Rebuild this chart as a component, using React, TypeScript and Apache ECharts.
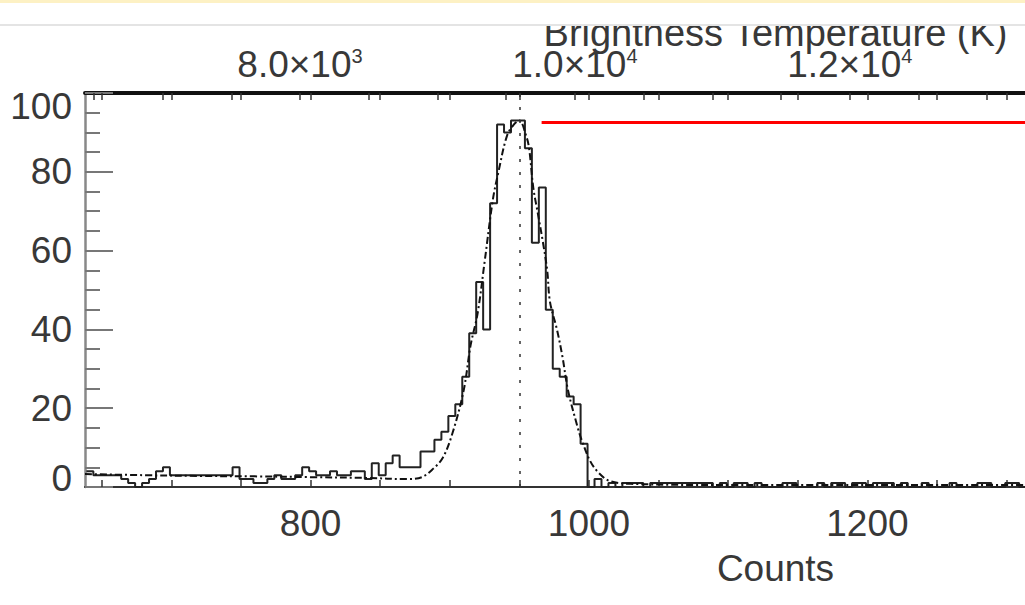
import React, { useEffect, useRef } from 'react';
import * as echarts from 'echarts';

// histogram: bins of 5 counts starting at 639
const binStart = 639;
const binWidth = 5;
const histCounts = [
  4, 3, 3, 3, 3, 2, 1, 0, 1, 2,
  4, 5, 3, 3, 3, 3, 3, 3, 3, 3,
  3, 5, 2, 2, 1, 1, 2, 3, 2, 2,
  3, 5, 4, 3, 3, 4, 3, 3, 4, 4,
  2, 6, 3, 6, 8, 5, 5, 5, 9, 9,
  12, 14, 18, 21, 28, 39, 52, 40, 72, 92,
  90, 93, 93, 86, 62, 76, 45, 30, 28, 23,
  21, 11, 0, 2, 0, 1, 0, 1, 1, 1,
  0, 1, 1, 1, 1, 1, 1, 1, 1, 1,
  0, 1, 0, 1, 1, 0, 1, 0, 0, 0,
  1, 1, 0, 0, 0, 1, 0, 1, 1, 0,
  1, 1, 0, 1, 1, 1, 0, 1, 0, 0,
  1, 0, 0, 0, 1, 0, 0, 0, 1, 1,
  0, 0, 1, 1, 0, 0, 1, 0, 0, 0, 0,
];

// fitted profile (dash-dot curve)
const fitX = [638, 680, 720, 760, 800, 840, 870, 880, 888, 895, 902, 910, 915, 920, 925, 931, 935, 941, 946, 950, 955, 957, 960, 963, 967, 970, 972, 977, 981, 985, 992, 995, 1001, 1007, 1015, 1030, 1100, 1300, 1630];
const fitY = [3.3, 3.0, 2.8, 2.7, 2.5, 2.3, 2.0, 2.5, 4.6, 7.4, 13.7, 24.5, 36, 44, 57, 73, 80, 89, 92, 93, 89, 86, 76, 70, 62, 55, 47, 40, 33, 24.5, 15, 11.7, 6.5, 3.6, 1.5, 0.8, 0.5, 0.5, 0.5];

const peakCount = 950;
const redLineX = [966, 1630];
const redLineY = 92.5;

const countRange = [638, 1630];
const tempRange = [6436, 16483];
const countTicks = [650, 700, 750, 800, 850, 900, 950, 1000, 1050, 1100, 1150, 1200, 1250, 1300, 1350, 1400, 1450, 1500, 1550, 1600];
const countLabels = [800, 1000, 1200];
const tempTicks = [6500, 7000, 7500, 8000, 8500, 9000, 9500, 10000, 10500, 11000, 11500, 12000, 12500, 13000, 13500, 14000, 14500, 15000, 15500, 16000];
const tempLabels = [8000, 10000, 12000];
const yRange = [0, 100];
const yInterval = 20;

const FONT = 'Liberation Sans';
const TXT = '#383838';
const FS = 37;

export default function App() {
  const ref = useRef<HTMLDivElement>(null);
  useEffect(() => {
    if (!ref.current) return;
    const chart = echarts.init(ref.current, undefined, { renderer: 'svg' });
    const histData: number[][] = histCounts.map((c, i) => [binStart + i * binWidth, c]);
    histData.push([binStart + histCounts.length * binWidth, histCounts[histCounts.length - 1]]);
    const fitData = fitX.map((x, i) => [x, fitY[i]]);
    const labelStyle = { fontSize: FS, fontFamily: FONT, color: TXT };
    chart.setOption({
      animation: false,
      backgroundColor: '#fff',
      grid: { left: 85, top: 93, height: 394, width: 1381, outerBoundsMode: 'none' },
      xAxis: [
        {
          type: 'value', position: 'bottom', min: countRange[0], max: countRange[1],
          axisLine: { show: true, lineStyle: { color: '#333', width: 2 } },
          axisTick: { show: true, inside: true, length: 7, customValues: countTicks, lineStyle: { color: '#333', width: 1.5 } },
          axisLabel: { ...labelStyle, margin: 18, customValues: countLabels, formatter: (v: number) => String(v) },
          splitLine: { show: false },
          name: 'Counts', nameLocation: 'middle', nameGap: 63,
          nameTextStyle: { ...labelStyle },
        },
        {
          type: 'value', position: 'top', min: countRange[0], max: countRange[1], offset: 0,
          axisLine: { show: true, lineStyle: { color: '#111', width: 4 } },
          axisTick: { show: true, inside: true, length: 7, customValues: countTicks, lineStyle: { color: '#333', width: 1.5 } },
          axisLabel: { show: false },
          splitLine: { show: false },
        },
        {
          type: 'value', position: 'top', min: tempRange[0], max: tempRange[1], offset: 0,
          axisLine: { show: false },
          axisTick: { show: true, inside: true, length: 7, customValues: tempTicks, lineStyle: { color: '#333', width: 1.5 } },
          axisLabel: {
            ...labelStyle, margin: 10, customValues: tempLabels,
            formatter: (v: number) => {
              const e = Math.floor(Math.log10(v) + 1e-9);
              const m = v / Math.pow(10, e);
              return `{b|${m.toFixed(1)}×10}{s|${e}}`;
            },
            rich: {
              b: { fontSize: FS, fontFamily: FONT, color: TXT },
              s: { fontSize: 20, fontFamily: FONT, color: TXT, verticalAlign: 'top' },
            },
          },
          splitLine: { show: false },
          name: 'Brightness Temperature (K)', nameLocation: 'middle', nameGap: 41,
          nameMoveOverlap: false,
          nameTextStyle: { ...labelStyle, fontSize: 38 },
        },
      ],
      yAxis: {
        type: 'value', min: yRange[0], max: yRange[1], interval: yInterval,
        axisLine: { show: true, lineStyle: { color: '#888', width: 2.5 } },
        axisTick: { show: true, inside: true, length: 28, lineStyle: { color: '#777', width: 2 } },
        minorTick: { show: true, splitNumber: 4, length: 15, lineStyle: { color: '#777', width: 2 } },
        axisLabel: {
          ...labelStyle, margin: 13,
          formatter: (v: number) => (v === yRange[0] ? `{lo|${v}}` : v === yRange[1] ? `{hi|${v}}` : `{m|${v}}`),
          rich: {
            m: { fontSize: FS, fontFamily: FONT, color: TXT },
            lo: { fontSize: FS, fontFamily: FONT, color: TXT, padding: [0, 0, 18, 0] },
            hi: { fontSize: FS, fontFamily: FONT, color: TXT, padding: [26, 0, 0, 0] },
          },
        },
        splitLine: { show: false },
        minorSplitLine: { show: false },
      },
      series: [
        {
          type: 'line', xAxisIndex: 0, step: 'end', data: histData, symbol: 'none',
          lineStyle: { color: '#222', width: 2 },
          markLine: {
            silent: true, symbol: 'none', label: { show: false },
            lineStyle: { color: '#333', width: 1.5, type: [3, 10] },
            data: [{ xAxis: peakCount }],
          },
          z: 3,
        },
        {
          type: 'line', xAxisIndex: 0, data: fitData, symbol: 'none', smooth: 0.35,
          lineStyle: { color: '#111', width: 2, type: [7, 3, 2, 3] },
          z: 4,
        },
        {
          type: 'line', xAxisIndex: 0, data: redLineX.map((x) => [x, redLineY]), symbol: 'none',
          lineStyle: { color: '#ff0000', width: 3 },
          z: 5,
        },
      ],
      graphic: [
        { type: 'rect', z: 100, shape: { x: 0, y: 0, width: 1025, height: 25 }, style: { fill: '#fff' } },
        { type: 'rect', z: 101, shape: { x: 0, y: 0, width: 1025, height: 3 }, style: { fill: '#fdf1c4' } },
        { type: 'rect', z: 101, shape: { x: 0, y: 24, width: 1025, height: 2 }, style: { fill: '#e4e4e4' } },
      ],
    });
    return () => chart.dispose();
  }, []);
  return <div ref={ref} style={{ position: 'fixed', left: 0, top: 0, width: 1025, height: 605 }} />;
}
